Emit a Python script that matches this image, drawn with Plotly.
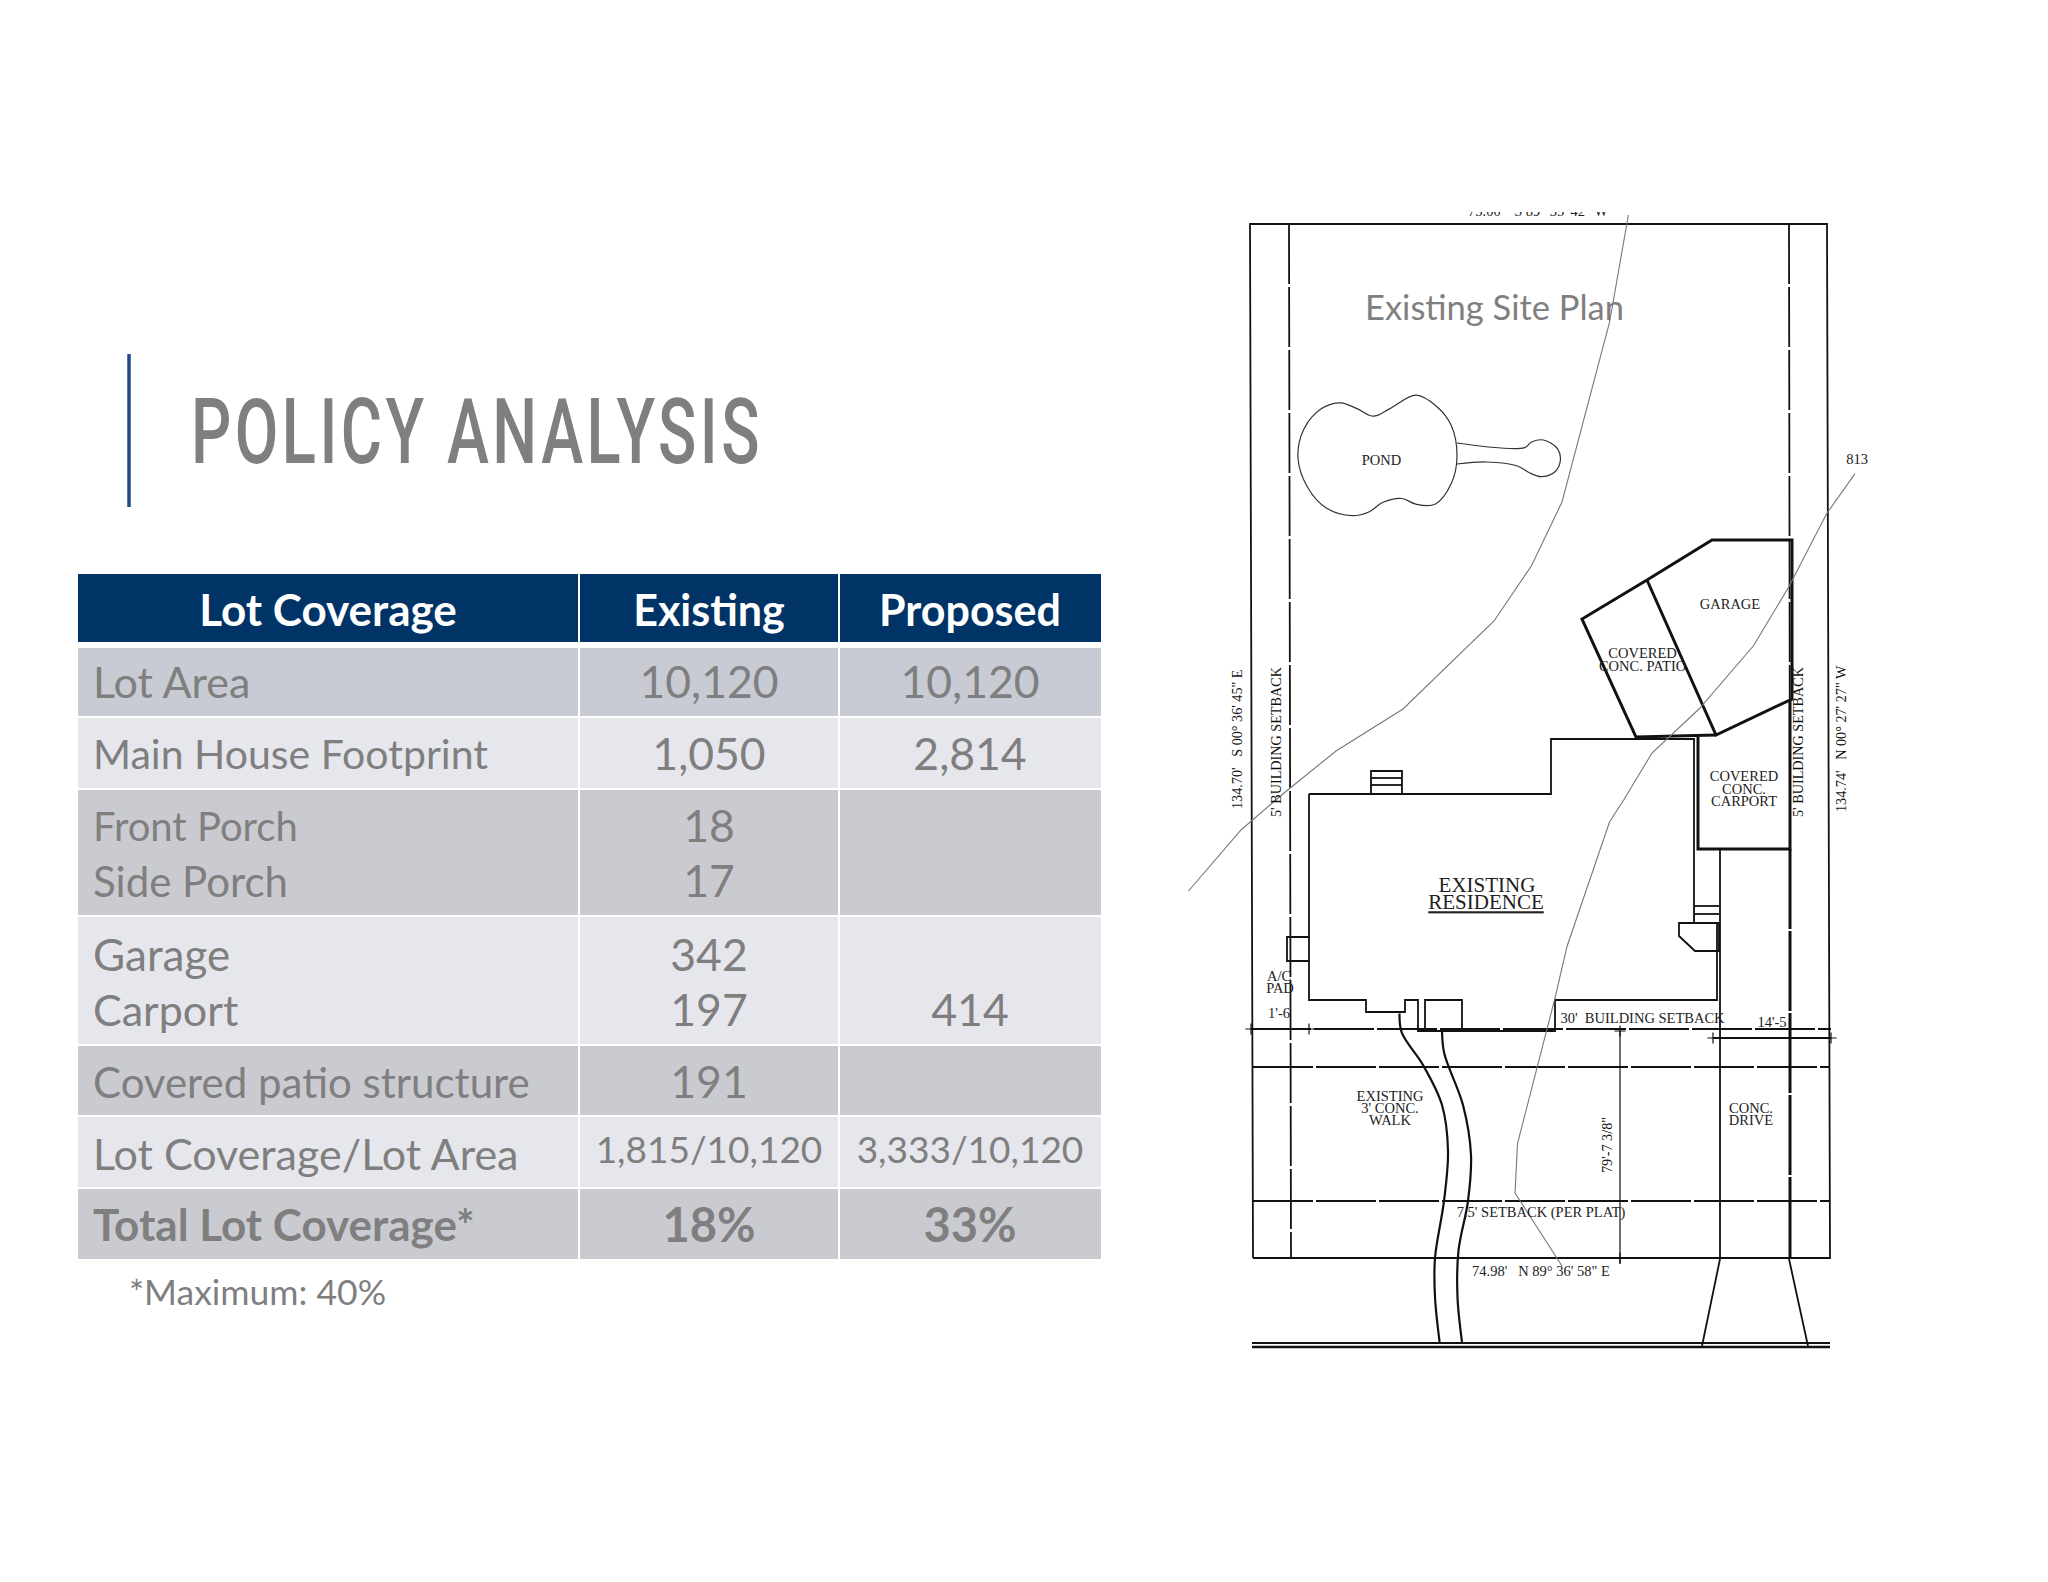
import plotly.graph_objects as go

# ---------- table content ----------
title_text = "POLICY ANALYSIS"
header = ["Lot Coverage", "Existing", "Proposed"]
row_labels = ["Lot Area", "Main House Footprint", "Front Porch", "Side Porch", "Garage", "Carport",
              "Covered patio structure", "Lot Coverage/Lot Area", "Total Lot Coverage*"]
existing = ["10,120", "1,050", "18", "17", "342", "197", "191", "1,815/10,120", "18%"]
proposed = ["10,120", "2,814", "", "", "", "414", "", "3,333/10,120", "33%"]
footnote = "*Maximum: 40%"
plan_title = "Existing Site Plan"

# ---------- table layout ----------
row_mid = [687, 759, 831, 886, 960, 1015, 1087, 1159, 1230]
value_mid = [687, 759, 831, 886, 960, 1015, 1087, 1154, 1230]
label_sizes = [43, 41, 40, 42, 44, 43, 42, 43, 44]
col_edges = [77, 579, 839, 1102]
band_tops = [648, 718, 790, 917, 1046, 1117, 1189]
band_bottoms = [716, 788, 915, 1044, 1115, 1187, 1259]
band_colors = ["#C8CBD3", "#E6E7EC", "#CACBD0", "#E6E7EC", "#CACBD0", "#E6E7EC", "#CACBD0"]

# ---------- site plan linework ----------
lot_x = [1253, 1250, 1827, 1830, 1253]
lot_y = [1258, 224, 224, 1258, 1258]
garage_x = [1647, 1712, 1792, 1792, 1716, 1647]
garage_y = [580, 540, 540, 699, 735, 580]
patio_x = [1647, 1582, 1636, 1716]
patio_y = [580, 619, 737, 735]
carport_x = [1698, 1698, 1790, 1790]
carport_y = [737, 849, 849, 700]
house_x = [1309, 1551, 1551, 1694, 1694, 1717, 1717, 1555, 1555, 1418, 1418, 1405, 1405, 1366, 1366, 1309, 1309]
house_y = [794, 794, 739, 739, 923, 923, 1000, 1000, 1031, 1031, 1000, 1000, 1012, 1012, 1000, 1000, 794]
porch_x = [1425, 1425, 1462, 1462]
porch_y = [1031, 1000, 1000, 1031]
steps_x = [1371, 1371, 1402, 1402]
steps_y = [794, 771, 771, 794]
acbox_x = [1309, 1287, 1287, 1309]
acbox_y = [937, 937, 961, 961]
bay_x = [1694, 1679, 1679, 1695, 1719, 1719, 1694]
bay_y = [923, 923, 936, 951, 951, 923, 923]
drive_x = [1720, 1720]
drive_y = [849, 1258]
flare_l_x = [1720, 1702]
flare_l_y = [1259, 1346]
flare_r_x = [1789, 1808]
flare_r_y = [1259, 1346]
street1_x = [1252, 1830]
street1_y = [1343, 1343]
street2_x = [1252, 1830]
street2_y = [1347, 1347]
dim_v_x = [1620, 1620]
dim_v_y = [1031, 1264]
dim_h_x = [1713, 1831]
dim_h_y = [1038, 1038]
dim_tick_x = [1251, 1309, 1620, 1620, 1713, 1831]
dim_tick_y = [1029, 1029, 1031, 1258, 1038, 1038]
stepline_a_x = [1694, 1719]
stepline_a_y = [906, 906]
stepline_b_x = [1694, 1719]
stepline_b_y = [914, 914]
frontstep_a_x = [1371, 1402]
frontstep_a_y = [778, 778]
frontstep_b_x = [1371, 1402]
frontstep_b_y = [785, 785]
setback_l_x = [1289, 1291]
setback_l_y = [224, 1258]
setback_r_x = [1789, 1790]
setback_r_y = [224, 849]
setback_r2_x = [1790, 1790]
setback_r2_y = [849, 1258]
front1_x = [1251, 1831]
front1_y = [1029, 1029]
front2_x = [1253, 1830]
front2_y = [1067, 1067]
front3_x = [1253, 1830]
front3_y = [1201, 1201]
walk_l_x = [1399.5, 1401.8, 1423, 1442, 1448, 1444, 1435, 1435, 1439.6]
walk_l_y = [1013.4, 1032.6, 1065, 1105, 1151, 1201, 1258, 1297, 1342]
walk_r_x = [1442, 1444.3, 1463, 1471, 1468, 1458.5, 1457.5, 1462]
walk_r_y = [1030.7, 1053.6, 1105, 1155, 1201, 1250.7, 1297, 1342]
contour1_x = [1628.4, 1609.5, 1562, 1531.6, 1494, 1403, 1336, 1284, 1241, 1188.5]
contour1_y = [215, 322.5, 502, 565.5, 621, 709, 751, 793, 830, 891]
contour2_x = [1855, 1826.6, 1789, 1753.5, 1699, 1652, 1623.7, 1609.5, 1567, 1555, 1517.5, 1515, 1562]
contour2_y = [473.6, 513.8, 586.5, 645.8, 709, 753, 800, 822, 946.5, 998, 1143.6, 1193, 1266]
pond_x = [1298, 1303.7, 1321.6, 1340.5, 1357, 1373.5, 1390, 1416, 1437, 1451.4, 1457, 1451.4, 1435, 1416,
          1401.8, 1383, 1368.8, 1352.3, 1326.3, 1307.4, 1298]
pond_y = [458.3, 429.6, 408.6, 402.8, 408.6, 416.2, 408.6, 395.2, 406.7, 425.8, 456.4, 483.2, 504.2, 504.2,
          498.5, 502.3, 512, 515.7, 508, 487, 458.3]
stem_x = [1457, 1524.6, 1531.6, 1543.4, 1557.6, 1560.4, 1555, 1541, 1529, 1517.5, 1486.8, 1457]
stem_y = [443, 447.6, 442, 440, 448.8, 460, 471.7, 476.7, 472.5, 466, 462, 464]

# ---------- site plan labels ----------
plan_labels = ["POND", "813", "GARAGE", "COVERED", "CONC. PATIO", "COVERED", "CONC.", "CARPORT",
               "30'  BUILDING SETBACK", "EXISTING", "3' CONC.", "WALK", "CONC.", "DRIVE",
               "7.5' SETBACK (PER PLAT)", "74.98'   N 89° 36' 58\" E", "A/C", "PAD", "1'-6", "14'-5"]
plan_label_x = [1381.5, 1857, 1730, 1642.6, 1642.6, 1744, 1744, 1744, 1642.5, 1390, 1390, 1390, 1751, 1751,
                1541, 1541, 1279, 1280, 1279, 1772]
plan_label_y = [461, 460, 605, 654, 667, 777, 790, 802, 1019, 1097, 1109, 1121, 1109, 1121, 1213.6, 1272,
                977, 989, 1014, 1023]
res_labels = ["EXISTING", "<u>RESIDENCE</u>"]
res_x = [1487, 1486]
res_y = [887, 904]
rot_labels = ["134.70'   S 00° 36' 45\" E", "5' BUILDING SETBACK", "5' BUILDING SETBACK",
              "134.74'   N 00° 27' 27\" W", "79'-7 3/8\""]
rot_x = [1237, 1276, 1798, 1841, 1607]
rot_y = [739, 742, 742, 739, 1145]
cropped_label = "75.00'   S 89° 35' 42\" W"

GREY = "#7F7F7F"
NAVY = "#003366"
SANS = "Lato"
SERIF = "Liberation Serif"

fig = go.Figure()

def line(x, y, width=2.0, color="#111111", dash=None, shape="linear"):
    fig.add_trace(go.Scatter(x=x, y=y, mode="lines", hoverinfo="skip", showlegend=False,
                             line=dict(color=color, width=width, dash=dash, shape=shape)))

shapes = [dict(type="line", xref="x", yref="y", x0=129, x1=129, y0=354, y1=507,
               line=dict(color="#1F4A86", width=3.5), layer="below")]
for x0, x1 in zip(col_edges[:-1], col_edges[1:]):
    shapes.append(dict(type="rect", xref="x", yref="y", x0=x0 + 1, x1=x1 - 1, y0=574, y1=642,
                       fillcolor=NAVY, line_width=0, layer="below"))
    for t, b, c in zip(band_tops, band_bottoms, band_colors):
        shapes.append(dict(type="rect", xref="x", yref="y", x0=x0 + 1, x1=x1 - 1, y0=t, y1=b,
                           fillcolor=c, line_width=0, layer="below"))
# mask: the top line of text is cropped in the source drawing
shapes.append(dict(type="rect", xref="x", yref="y", x0=1400, x1=1620, y0=180, y1=212,
                   fillcolor="white", line_width=0, layer="above"))

for a, b in [(setback_l_x, setback_l_y), (setback_r_x, setback_r_y), (front1_x, front1_y),
             (front2_x, front2_y), (front3_x, front3_y)]:
    line(a, b, 1.8, dash="60px,3px")
line(setback_r2_x, setback_r2_y, 3.0, dash="80px,2px")
for a, b in [(lot_x, lot_y), (house_x, house_y), (porch_x, porch_y), (steps_x, steps_y), (acbox_x, acbox_y),
             (bay_x, bay_y), (drive_x, drive_y), (flare_l_x, flare_l_y), (flare_r_x, flare_r_y),
             (street1_x, street1_y), (dim_h_x, dim_h_y), (stepline_a_x, stepline_a_y),
             (stepline_b_x, stepline_b_y), (frontstep_a_x, frontstep_a_y), (frontstep_b_x, frontstep_b_y)]:
    line(a, b, 1.8)
line(street2_x, street2_y, 2.6)
line(dim_v_x, dim_v_y, 1.2)
fig.add_trace(go.Scatter(x=dim_tick_x, y=dim_tick_y, mode="markers", hoverinfo="skip", showlegend=False,
                         marker=dict(symbol="cross-thin", size=8, line=dict(color="#111111", width=1.2))))
for a, b in [(garage_x, garage_y), (patio_x, patio_y), (carport_x, carport_y)]:
    line(a, b, 3.0)
for a, b in [(walk_l_x, walk_l_y), (walk_r_x, walk_r_y)]:
    line(a, b, 2.2, shape="spline")
for a, b in [(pond_x, pond_y), (stem_x, stem_y)]:
    line(a, b, 1.2, color="#333333", shape="spline")
for a, b in [(contour1_x, contour1_y), (contour2_x, contour2_y)]:
    line(a, b, 1.1, color="#777777")

fig.add_trace(go.Scatter(x=plan_label_x, y=plan_label_y, text=plan_labels, mode="text", hoverinfo="skip",
                         showlegend=False, textposition="middle center",
                         textfont=dict(family=SERIF, size=14.5, color="#222222")))
fig.add_trace(go.Scatter(x=res_x, y=res_y, text=res_labels, mode="text", hoverinfo="skip", showlegend=False,
                         textposition="middle center", textfont=dict(family=SERIF, size=21, color="#222222")))
fig.add_trace(go.Scatter(x=[1538], y=[212], text=[cropped_label], mode="text", hoverinfo="skip",
                         showlegend=False, textposition="middle center",
                         textfont=dict(family=SERIF, size=14.5, color="#222222")))

is_bold = [False] * 8 + [True]
fig.add_trace(go.Scatter(x=[93] * len(row_labels), y=row_mid, mode="text", hoverinfo="skip", showlegend=False,
                         text=[f"<b>{t}</b>" if b else t for t, b in zip(row_labels, is_bold)],
                         textposition="middle right",
                         textfont=dict(family=SANS, size=label_sizes, color=GREY)))
for vals, cx in [(existing, 709), (proposed, 970)]:
    fig.add_trace(go.Scatter(x=[cx] * len(vals), y=value_mid, mode="text", hoverinfo="skip", showlegend=False,
                             text=[f"<b>{t}</b>" if b and t else t for t, b in zip(vals, is_bold)],
                             textposition="middle center",
                             textfont=dict(family=SANS, color=GREY,
                                           size=[37 if "/" in t else (47 if "%" in t else 44.5) for t in vals])))
fig.add_trace(go.Scatter(x=[328, 709, 970], y=[615, 615, 615], text=[f"<b>{h}</b>" for h in header], mode="text",
                         hoverinfo="skip", showlegend=False, textposition="middle center",
                         textfont=dict(family=SANS, size=[44, 43, 43], color="white")))

annotations = [
    dict(x=477, y=432, text=title_text, showarrow=False, xanchor="center", yanchor="middle", xref="x", yref="y",
         font=dict(family="Roboto", size=90, color=GREY, weight=500)),
    dict(x=127, y=1291, text=footnote, showarrow=False, xanchor="left", yanchor="middle", xref="x", yref="y",
         font=dict(family=SANS, size=35.5, color=GREY)),
    dict(x=1494, y=306, text=plan_title, showarrow=False, xanchor="center", yanchor="middle", xref="x", yref="y",
         font=dict(family=SANS, size=34.5, color=GREY)),
]
for t, x, y in zip(rot_labels, rot_x, rot_y):
    annotations.append(dict(x=x, y=y, text=t, showarrow=False, textangle=-90, xref="x", yref="y",
                            font=dict(family=SERIF, size=14.2, color="#111111")))

fig.update_layout(width=2048, height=1582, margin=dict(l=0, r=0, t=0, b=0), showlegend=False,
                  paper_bgcolor="white", plot_bgcolor="white", shapes=shapes, annotations=annotations,
                  xaxis=dict(range=[0, 2048], visible=False, fixedrange=True),
                  yaxis=dict(range=[1582, 0], visible=False, fixedrange=True))
# the slide's title face is a condensed, tracked one: fit the heading to its width in the drawing
post = """
document.body.style.margin='0';
document.querySelectorAll('text.annotation-text').forEach(function(t){
  if(t.textContent==='POLICY ANALYSIS'){
    t.style.letterSpacing='5px';
    t.setAttribute('textLength','572');
    t.setAttribute('lengthAdjust','spacingAndGlyphs');
  }
});
"""
fig.write_html("out.html", config={"displayModeBar": False}, post_script=post)
